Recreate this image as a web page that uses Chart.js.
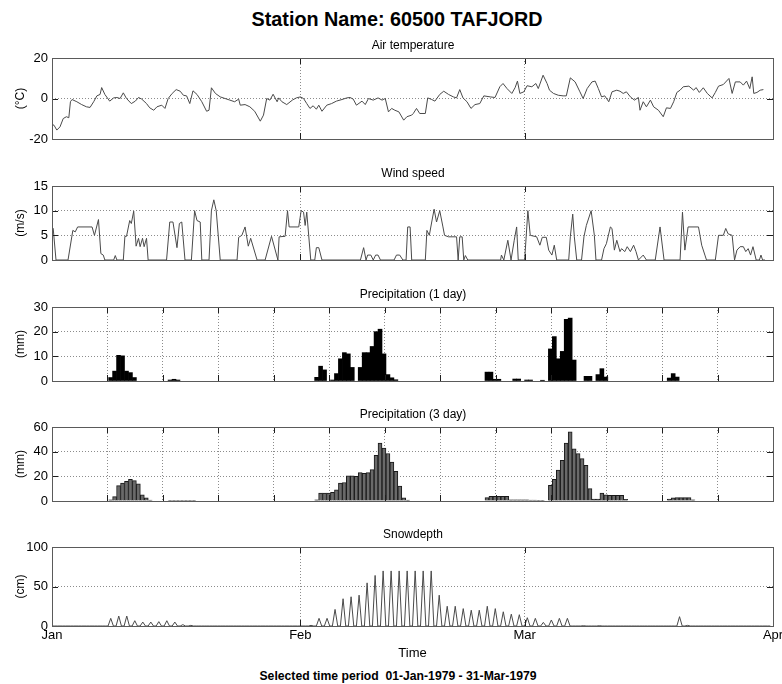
<!DOCTYPE html>
<html>
<head>
<meta charset="utf-8">
<script src="https://cdn.jsdelivr.net/npm/chart.js@4.4.0/dist/chart.umd.min.js"></script>
<style>
html,body{margin:0;padding:0;background:#fff;}
body{width:782px;height:684px;position:relative;overflow:hidden;font-family:"Liberation Sans",Arial,Helvetica,sans-serif;}
canvas{position:absolute;left:0;z-index:1;}
.txt{position:absolute;white-space:pre;color:#000;line-height:1;transform:translateX(-50%);z-index:2;}
</style>
</head>
<body>
<div class="txt" style="left:397px;top:10px;font-size:19.8px;font-weight:bold;">Station Name: 60500 TAFJORD</div>
<div class="txt" style="left:413px;top:39px;font-size:12px;">Air temperature</div>
<div class="txt" style="left:413px;top:167px;font-size:12px;">Wind speed</div>
<div class="txt" style="left:413px;top:288px;font-size:12px;">Precipitation (1 day)</div>
<div class="txt" style="left:413px;top:408px;font-size:12px;">Precipitation (3 day)</div>
<div class="txt" style="left:413px;top:528px;font-size:12px;">Snowdepth</div>
<div class="txt" style="left:398px;top:670px;font-size:12.2px;font-weight:bold;">Selected time period  01-Jan-1979 - 31-Mar-1979</div>

<canvas id="c1" width="782" height="101" style="top:48px"></canvas>
<canvas id="c2" width="782" height="94" style="top:176px"></canvas>
<canvas id="c3" width="782" height="94" style="top:297px"></canvas>
<canvas id="c4" width="782" height="94" style="top:417px"></canvas>
<canvas id="c5" width="782" height="126" style="top:537px"></canvas>

<script>
// ---------- DATA (days since 01-Jan-1979) ----------
const monthTickDays = [0, 31, 59, 90];
const monthTickLabels = ['Jan', 'Feb', 'Mar', 'Apr'];
const weekTickDays = [0, 7, 14, 21, 28, 35, 42, 49, 56, 63, 70, 77, 84, 91];

// Air temperature (deg C)
const tempDay = [0,0.25,0.6,1.0,1.4,1.8,2.1,2.3,2.5,3.1,3.7,4.3,4.75,5.2,5.6,6.0,6.2,6.6,7.2,7.7,8.1,8.5,8.9,9.3,9.9,10.4,10.8,11.2,11.8,12.2,12.7,13.1,13.7,14.1,14.5,15.0,15.5,16.0,16.4,16.8,17.2,17.6,18.1,18.7,19.3,19.6,19.9,20.4,21.0,21.6,22.2,22.8,23.3,23.5,24.1,24.7,25.3,26.0,26.4,26.8,27.2,27.6,28.1,28.3,28.7,29.3,30.0,30.5,31.0,31.4,31.8,32.2,32.6,33.0,33.3,33.7,34.3,34.9,35.5,36.2,36.8,37.2,37.6,38.0,38.7,39.1,39.5,40.1,40.7,41.2,41.6,42.0,42.4,42.8,43.3,43.9,44.3,44.9,45.1,45.5,45.9,46.6,46.9,47.4,47.8,48.4,48.9,49.5,50.1,50.5,50.9,51.3,51.8,52.3,52.8,53.4,53.9,54.7,55.3,55.9,56.3,56.8,57.4,57.8,58.1,58.4,58.9,59.3,59.9,60.4,60.7,61.3,61.8,62.1,62.6,63.2,63.8,64.2,64.7,65.3,65.9,66.3,66.8,67.4,67.8,68.2,68.6,69.0,69.5,69.9,70.5,70.9,71.3,71.7,72.2,72.7,73.2,73.4,73.8,74.2,74.7,75.1,75.7,76.3,76.7,77.2,77.6,78.0,78.4,78.8,79.5,80.1,80.4,80.8,81.3,81.8,82.4,82.8,83.2,83.8,84.5,84.9,85.3,85.9,86.3,86.7,87.1,87.4,87.6,88.0,88.4,88.8];
const tempValue = [-12.8,-13.2,-15.6,-14,-9.9,-9,-9.5,-1.6,-0.5,-1.6,-3,-4.1,-4.4,-1.6,1.3,2,5.4,2,-1.3,0.3,0.5,0,2.8,0,-2.5,-1.3,0.5,-0.3,-2.5,-4.6,-5.8,-4.1,-3.3,-4.9,0,2.5,4.4,3.6,1.6,1.3,-2.5,3.8,2,-1.6,-6.3,-5.8,5.3,2.5,0.8,0,-0.8,-1.6,-0.3,-3.3,-3,-4.1,-6.3,-11.2,-8.2,0,-0.8,2.1,-1.6,0.3,-1.6,-3,-0.8,0.3,0.8,0,-2.5,-4.9,-3.6,-5.3,-3.3,-6.3,-3.3,-2.5,-1.3,-0.5,0.3,0.5,-0.3,-3.3,-1.3,-3,0,-0.8,0.3,-0.8,0,-6.6,-4.9,-5.8,-6.6,-10.7,-9,-8.2,-7.4,-4.9,-7.4,-7.4,0.3,-0.5,-1.3,2,3.6,2,0.8,0.3,4.4,0.3,-1.6,-4.9,-3,-2.5,1.3,0.8,0.5,5.8,7.4,4.9,2.5,5.3,8.6,2.5,3.3,6.3,5.8,7.4,4.9,11.5,7.4,4.1,2.5,1.6,1.3,1.3,10.2,8.2,3.3,0,4.9,8.2,8.6,4.9,0.8,1.3,-1.6,3.3,4.1,3.6,2.5,3.3,0.8,-0.8,0.5,-5.8,-1.6,-4.1,-0.8,-4.1,-5.8,-9,-4.6,-4.9,-1.6,3,4.1,5.8,6.1,4.1,5.4,3,5.3,2.5,0.3,3,6.1,6.9,9.9,2.5,8.2,8.2,6.6,8.6,4.9,10.7,2.5,3,4.1,4.4];

// Wind speed (m/s)
const windDay = [0,0.15,0.5,2.0,2.6,2.9,3.2,5.0,5.3,5.8,6.1,6.4,6.6,7.7,7.9,8.1,8.9,9.1,9.3,9.7,9.9,10.2,10.5,10.8,11.0,11.3,11.5,11.8,12.0,14.3,14.7,15.1,15.6,15.9,16.2,16.6,17.4,17.8,18.1,18.5,18.7,19.6,19.9,20.2,20.5,21.0,23.1,23.3,23.7,24.1,24.5,24.8,25.6,26.6,27.4,28.2,28.35,29.1,29.4,29.6,30.8,31.1,31.4,31.6,31.8,32.3,32.8,33.0,33.3,33.7,38.5,38.9,39.2,39.4,39.8,40.1,40.4,40.7,41.0,42.7,43.0,43.4,43.8,44.2,44.4,44.7,44.9,46.6,46.8,47.1,47.4,47.7,48.0,48.4,48.8,49.0,49.5,50.5,50.7,50.9,51.2,51.4,51.6,51.9,56.0,56.1,56.4,56.9,57.3,57.7,58.0,58.2,59.0,59.4,59.7,60.5,60.9,61.2,61.7,62.0,62.4,62.7,63.0,64.5,64.7,65.0,65.2,65.5,66.1,66.4,66.7,67.3,67.7,67.9,68.6,68.9,69.2,69.7,69.9,70.2,70.5,70.9,71.1,71.5,71.8,72.2,72.6,72.9,73.2,73.8,74.2,75.3,75.9,76.4,78.4,78.7,79.0,79.4,80.7,81.1,81.5,81.7,82.8,83.2,83.8,84.1,84.4,84.9,85.2,85.5,85.9,86.3,86.6,86.9,87.2,87.5,87.9,88.3,88.5,88.7,89.0];
const windValue = [6.7,6.4,0,0,6,5.7,6.7,6.7,5,8.2,1.3,1,0,0,0.9,0,0,4.8,4.8,8,7.4,9.9,2.8,4.4,2.7,4.4,2.7,4.4,0,0,7.7,7.7,2.5,7.4,7.7,0,0,10,8,7.7,0,0,10,12.2,10,0,0,4.6,5,6.7,2.8,4.4,0,0,4.8,0,4.7,4.8,10,6.7,6.7,10,9.7,7,9.7,0,0,2.5,2.5,0,0,2.5,0,1,1,0,1,1,0,0,1,1,0,0,6.7,6.7,0,0,6,5,7.7,10.3,7.7,10,6.7,5,4.7,4.7,0,4.7,4.7,0,0.9,0,0,1,0,4,0,4,6.7,0,0,10,5,4.7,3,4.6,4.6,2,1,3,0,0,4.7,9.3,4.7,0,0,4.7,7,10,5,0,0,2.3,3.3,6.7,6.4,2,4,1.7,2.3,1.7,2.7,1.7,3,1.7,0,1,0,0,6.7,0,0,9.7,2,6.7,6.7,3,1,0,0,5,5,6.4,5.3,5,0,2,2.7,2.7,1.7,2.3,1,2.7,0,0,1,0,0];

// Precipitation, 1 day (mm), half-day bars
const precip1Day = [7.4,7.9,8.4,8.9,9.4,9.9,10.4,14.9,15.4,15.9,33.4,33.9,34.4,35.4,35.9,36.4,36.9,37.4,37.9,38.9,39.4,39.9,40.4,40.9,41.4,41.9,42.4,42.9,43.4,54.9,55.4,55.9,56.4,58.4,58.9,59.9,60.4,61.9,62.9,63.4,63.9,64.4,64.9,65.4,65.9,67.4,67.9,68.9,69.4,69.9,77.9,78.4,78.9];
const precip1Value = [1.4,4,10.4,10.2,4,3.4,1.4,0.4,0.7,0.4,1.5,6,4.5,0.4,3,9,11.5,11,5.5,5.5,11.5,11.5,14,20,21,11,2.6,1.3,0.5,3.6,3.6,0.7,0.7,0.8,0.8,0.4,0.4,0.3,13,18,9,12,25,25.5,8.5,1.9,1.9,2.6,5,1.6,1.2,3,1.6];

// Precipitation, 3 day (mm)
const precip3Day = [7.4,7.9,8.4,8.9,9.4,9.9,10.4,10.9,11.4,11.9,12.4,14.9,15.4,15.9,16.4,16.9,17.4,17.9,33.4,33.9,34.4,34.9,35.4,35.9,36.4,36.9,37.4,37.9,38.4,38.9,39.4,39.9,40.4,40.9,41.4,41.9,42.4,42.9,43.4,43.9,44.4,44.9,54.9,55.4,55.9,56.4,56.9,57.4,57.9,58.4,58.9,59.4,59.9,60.4,60.9,61.4,61.9,62.9,63.4,63.9,64.4,64.9,65.4,65.9,66.4,66.9,67.4,67.9,68.4,68.9,69.4,69.9,70.4,70.9,71.4,71.9,72.4,77.9,78.4,78.9,79.4,79.9,80.4,80.9];
const precip3Value = [1,3.5,12.5,14.5,16,17.5,16.5,14,5,2.5,0.8,0.6,0.6,0.6,0.6,0.6,0.6,0.6,1,6.5,6.5,6.5,7,9,14.5,15,20.5,20.5,20,23,22.5,23,25.5,37,47,43,38.5,31.5,24,12,2.5,0.7,2.7,3.8,3.8,3.8,3.8,3.8,1,1,1,1,1,0.8,0.8,0.5,0.3,12.7,17.6,25,33,47,56,42.4,38.4,34.3,29,10,1.5,1.5,6.5,5,4.5,4.5,4.5,4.5,1.4,1.5,2.5,2.7,2.7,2.7,2.7,1];

// Snow depth (cm), one reading per day (index = day), read at +1/3 day
const snowDepth = [0,0,0,0,0,0,0,9.7,12.6,12.6,6.7,5,5,5.5,6.7,5,1.7,0.8,0,0,0,0,0,0,0,0,0,0,0,0,0,0,0.8,9.7,9.7,21,34.5,37,39,54.6,64,69.7,69.7,69.7,69.7,69.7,69.7,69.7,39,25,25,22,20,20,25,22,18,15,14.3,10.5,9.7,4.6,7.6,9.7,9.7,0,0.4,0,0.4,0,0,0,0,0,0,0,0,0,11.8,0.8,0,0,0,0,0,0,0,0,0,0];
const snowObsOffset = 1 / 3;

// ---------- RENDERING ----------
const FONT = '"Liberation Sans", Arial, Helvetica, sans-serif';
const GRID = '#8c8c8c';
const LINE = '#4a4a4a';

const matlabBox = {
  id: 'matlabBox',
  afterDraw(chart) {
    const {ctx, chartArea: a, scales: {x, y}} = chart;
    const L = 6;
    ctx.save();
    ctx.lineWidth = 1;
    ctx.strokeStyle = '#1e1e1e';
    ctx.beginPath();
    x.ticks.forEach(t => {
      const px = Math.round(x.getPixelForValue(t.value)) + 0.5;
      ctx.moveTo(px, a.top); ctx.lineTo(px, a.top + L);
      ctx.moveTo(px, a.bottom); ctx.lineTo(px, a.bottom - L);
    });
    y.ticks.forEach(t => {
      const py = Math.round(y.getPixelForValue(t.value)) + 0.5;
      ctx.moveTo(a.left, py); ctx.lineTo(a.left + L, py);
      ctx.moveTo(a.right, py); ctx.lineTo(a.right - L, py);
    });
    ctx.stroke();
    ctx.strokeStyle = '#5a5a5a';
    ctx.strokeRect(Math.round(a.left) + 0.5, Math.round(a.top) + 0.5,
                   Math.round(a.right - a.left), Math.round(a.bottom - a.top));
    ctx.restore();
  }
};

function pairs(xs, ys) { return xs.map((v, i) => ({x: v, y: ys[i]})); }

function makePanel(id, type, dataset, o) {
  const bottom = !!o.bottom;
  const xTicks = o.xTicks;
  new Chart(document.getElementById(id), {
    type: type,
    data: { datasets: [dataset] },
    plugins: [matlabBox],
    options: {
      responsive: false,
      animation: false,
      events: [],
      layout: { padding: { top: 10, bottom: bottom ? 0 : 10, left: 0, right: 9 } },
      plugins: { legend: { display: false }, tooltip: { enabled: false } },
      scales: {
        x: {
          type: 'linear', min: o.xMin, max: o.xMax, offset: false,
          afterBuildTicks(s) { s.ticks = xTicks.map(v => ({ value: v })); },
          ticks: {
            display: bottom, autoSkip: false, maxRotation: 0, minRotation: 0, padding: 2,
            color: '#000', font: { family: FONT, size: 13 },
            callback: (v) => { const i = monthTickDays.indexOf(v); return i >= 0 ? monthTickLabels[i] : ''; }
          },
          grid: { color: GRID, lineWidth: 1, drawTicks: false, offset: false },
          border: { display: false, dash: [1, 2] },
          title: { display: bottom, text: 'Time', color: '#000', font: { family: FONT, size: 13 }, padding: { top: 0, bottom: 2 } },
          afterFit(s) { s.height = bottom ? 37 : 0; s.paddingLeft = 0; s.paddingRight = 0; }
        },
        y: {
          type: 'linear', min: o.yMin, max: o.yMax,
          ticks: { stepSize: o.yStep, padding: 4, color: '#000', font: { family: FONT, size: 13 } },
          grid: { color: GRID, lineWidth: 1, drawTicks: false },
          border: { display: false, dash: [1, 2] },
          title: { display: true, text: o.yTitle, color: '#000', font: { family: FONT, size: 12 }, padding: { top: 13, bottom: 0 } },
          afterFit(s) { s.width = 52; s.paddingTop = 0; s.paddingBottom = 0; }
        }
      }
    }
  });
}

const lineStyle = { borderColor: LINE, borderWidth: 1, pointRadius: 0, tension: 0, fill: false };

// Air temperature
makePanel('c1', 'line', Object.assign({ data: pairs(tempDay, tempValue) }, lineStyle),
  { xMin: 0, xMax: 90, xTicks: monthTickDays, yMin: -20, yMax: 20, yStep: 20, yTitle: '(°C)' });

// Wind speed
makePanel('c2', 'line', Object.assign({ data: pairs(windDay, windValue) }, lineStyle),
  { xMin: 0, xMax: 90, xTicks: monthTickDays, yMin: 0, yMax: 15, yStep: 5, yTitle: '(m/s)' });

// Precipitation 1 day
makePanel('c3', 'bar', { data: pairs(precip1Day, precip1Value), backgroundColor: '#000', borderWidth: 0,
  barPercentage: 1, categoryPercentage: 1 },
  { xMin: 0, xMax: 91, xTicks: weekTickDays, yMin: 0, yMax: 30, yStep: 10, yTitle: '(mm)' });

// Precipitation 3 day
makePanel('c4', 'bar', { data: pairs(precip3Day, precip3Value), backgroundColor: '#6a6a6a', borderColor: '#1a1a1a',
  borderWidth: 1, barPercentage: 1, categoryPercentage: 1 },
  { xMin: 0, xMax: 91, xTicks: weekTickDays, yMin: 0, yMax: 60, yStep: 20, yTitle: '(mm)' });

// Snow depth: each daily reading drawn as a spike between zero-valued readings
const snowPoints = [];
snowDepth.forEach((v, d) => {
  snowPoints.push({ x: d, y: 0 }, { x: d + snowObsOffset, y: v }, { x: d + 2 * snowObsOffset, y: 0 });
});
makePanel('c5', 'line', Object.assign({ data: snowPoints }, lineStyle),
  { xMin: 0, xMax: 90, xTicks: monthTickDays, yMin: 0, yMax: 100, yStep: 50, yTitle: '(cm)', bottom: true });
</script>
</body>
</html>
